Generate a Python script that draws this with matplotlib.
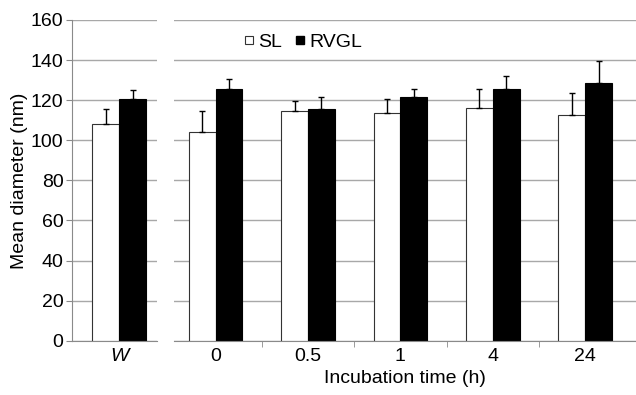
import matplotlib
matplotlib.use("Agg")
import matplotlib.pyplot as plt
import numpy as np
from matplotlib.lines import Line2D

plt.rcParams['font.family'] = ['Liberation Sans', 'DejaVu Sans']

# data (nm)
w_sl, w_sl_err = 108.0, 7.6
w_rvgl, w_rvgl_err = 120.8, 4.4

times = ['0', '0.5', '1', '4', '24']
sl_mean = [104.0, 114.5, 113.8, 116.3, 112.8]
sl_err = [10.5, 5.3, 6.9, 9.4, 11.0]
rvgl_mean = [125.8, 115.7, 121.7, 125.8, 128.5]
rvgl_err = [4.7, 6.0, 4.1, 6.4, 11.2]

grid_c = '#a8a8a8'
spine_c = '#8a8a8a'
bw = 0.29

fig = plt.figure(figsize=(6.36, 3.95), dpi=100)
ax1 = fig.add_axes([0.113, 0.1375, 0.134, 0.812])
ax2 = fig.add_axes([0.273, 0.1375, 0.727, 0.812])

for ax in (ax1, ax2):
    ax.set_ylim(0, 160)
    ax.set_yticks(np.arange(0, 161, 20))
    ax.yaxis.grid(True, color=grid_c, linewidth=1.0)
    ax.set_axisbelow(True)
    for s in ['top', 'right']:
        ax.spines[s].set_visible(False)
    ax.spines['bottom'].set_color(spine_c)
    ax.spines['left'].set_color(spine_c)

ek = dict(ecolor='black', elinewidth=1.0, capsize=2.3, capthick=1.0)

# W panel
ax1.bar(-bw / 2, w_sl, bw, color='white', edgecolor='#333333', linewidth=0.8,
        yerr=[[0], [w_sl_err]], error_kw=ek)
ax1.bar(bw / 2, w_rvgl, bw, color='black', edgecolor='black', linewidth=0.8,
        yerr=[[0], [w_rvgl_err]], error_kw=ek)
ax1.set_xlim(-0.51, 0.41)
ax1.set_xticks([0])
ax1.set_xticklabels(['W'], fontstyle='italic', fontsize=14)
ax1.tick_params(axis='x', length=0, pad=5)
ax1.tick_params(axis='y', colors=spine_c, length=4, labelsize=14, labelcolor='black', pad=2)
ax1.set_ylabel('Mean diameter (nm)', fontsize=14, labelpad=2)

# incubation panel
x = np.arange(len(times))
ax2.bar(x - bw / 2, sl_mean, bw, color='white', edgecolor='#333333', linewidth=0.8,
        yerr=[np.zeros(len(x)), sl_err], error_kw=ek)
ax2.bar(x + bw / 2, rvgl_mean, bw, color='black', edgecolor='black', linewidth=0.8,
        yerr=[np.zeros(len(x)), rvgl_err], error_kw=ek)
ax2.set_xlim(-0.455, 4.55)
ax2.set_xticks(x)
ax2.set_xticklabels(times, fontsize=14)
ax2.set_xticks(x[:-1] + 0.5, minor=True)
ax2.tick_params(axis='x', which='major', length=0, pad=5)
ax2.tick_params(axis='x', which='minor', length=4, color=spine_c)
ax2.spines['left'].set_visible(False)
ax2.tick_params(axis='y', length=0, labelleft=False)
ax2.set_xlabel('Incubation time (h)', fontsize=14, labelpad=4)

handles = [Line2D([], [], marker='s', linestyle='none', markersize=5.5,
                  markerfacecolor='white', markeredgecolor='#333333', markeredgewidth=0.8),
           Line2D([], [], marker='s', linestyle='none', markersize=5.5,
                  markerfacecolor='black', markeredgecolor='black')]
ax2.legend(handles, ['SL', 'RVGL'], loc='upper left', bbox_to_anchor=(0.115, 1.013),
           ncol=2, frameon=False, fontsize=14, handletextpad=0.2,
           columnspacing=0.7, handlelength=0.5)

fig.savefig('out.png', dpi=100)
